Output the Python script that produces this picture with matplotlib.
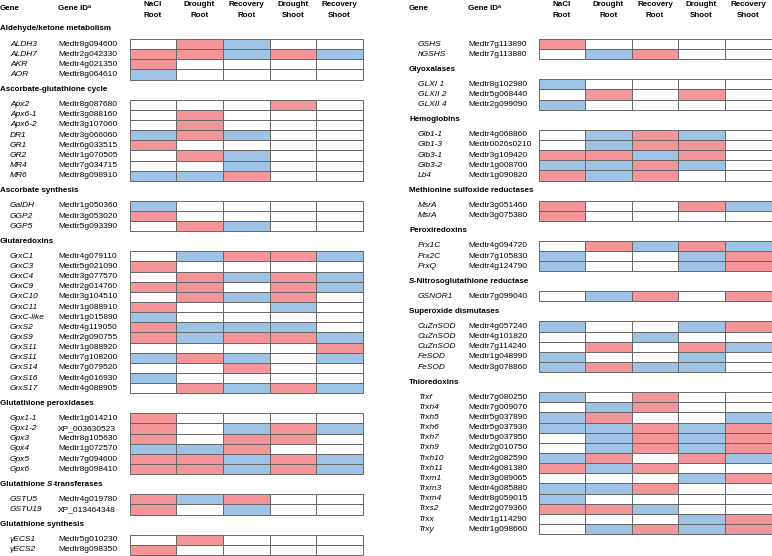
import matplotlib
matplotlib.use('Agg')
import matplotlib.pyplot as plt

plt.rcParams['font.family'] = ['Liberation Sans', 'DejaVu Sans']

conditions = ['NaCl\nRoot', 'Drought\nRoot', 'Recovery\nRoot', 'Drought\nShoot', 'Recovery\nShoot']

# r = up (red), b = down (blue), . = no change
ald_genes = ['ALDH3', 'ALDH7', 'AKR', 'AOR']
ald_ids = ['Medtr8g094600', 'Medtr2g042330', 'Medtr4g021350', 'Medtr8g064610']
ald_calls = ['.rb..', 'rrbrb', 'r....', 'b....']

asc_genes = ['Apx2', 'Apx6-1', 'Apx6-2', 'DR1', 'GR1', 'GR2', 'MR4', 'MR6']
asc_ids = ['Medtr8g087680', 'Medtr3g088160', 'Medtr3g107060', 'Medtr3g066060',
           'Medtr6g033515', 'Medtr1g070505', 'Medtr7g034715', 'Medtr8g098910']
asc_calls = ['...r.', '.r...', '.r...', 'brb..', 'r....', '.rb..', '..b..', 'bbr..']

ascs_genes = ['GalDH', 'GGP2', 'GGP5']
ascs_ids = ['Medtr1g050360', 'Medtr3g053020', 'Medtr5g093390']
ascs_calls = ['b....', 'r....', '.rb..']

grx_genes = ['GrxC1', 'GrxC3', 'GrxC4', 'GrxC9', 'GrxC10', 'GrxC11', 'GrxC-like', 'GrxS2',
             'GrxS9', 'GrxS11', 'GrxS11', 'GrxS14', 'GrxS16', 'GrxS17']
grx_ids = ['Medtr4g079110', 'Medtr5g021090', 'Medtr3g077570', 'Medtr2g014760', 'Medtr3g104510',
           'Medtr1g088910', 'Medtr1g015890', 'Medtr4g119050', 'Medtr2g090755', 'Medtr1g088920',
           'Medtr7g108200', 'Medtr7g079520', 'Medtr4g016930', 'Medtr4g088905']
grx_calls = ['.brrb', 'r....', '.rbrb', 'rr.rb', '.rbr.', 'r..b.', 'b....', 'rbbb.',
             'rbrrb', '....r', 'brb.b', '..r..', 'b....', '.rbrb']

gpx_genes = ['Gpx1-1', 'Gpx1-2', 'Gpx3', 'Gpx4', 'Gpx5', 'Gpx6']
gpx_ids = ['Medtr1g014210', 'XP_003630523', 'Medtr8g105630', 'Medtr1g072570',
           'Medtr7g094600', 'Medtr8g098410']
gpx_calls = ['r....', 'r.brb', 'r.rr.', 'bbr..', 'rrbrb', 'rrbrb']

gst_genes = ['GSTU5', 'GSTU19']
gst_ids = ['Medtr4g019780', 'XP_013464348']
gst_calls = ['rbr..', 'r.b..']

gsy_genes = ['\u03b3ECS1', '\u03b3ECS2']
gsy_ids = ['Medtr5g010230', 'Medtr8g098350']
gsy_calls = ['.r...', 'r....']

gsh_genes = ['GSHS', 'hGSHS']
gsh_ids = ['Medtr7g113890', 'Medtr7g113880']
gsh_calls = ['r....', '.br..']

glx_genes = ['GLXI 1', 'GLXII 2', 'GLXII 4']
glx_ids = ['Medtr8g102980', 'Medtr5g068440', 'Medtr2g099090']
glx_calls = ['b....', '.r.r.', 'b....']

hb_genes = ['Glb1-1', 'Glb1-3', 'Glb3-1', 'Glb3-2', 'Lb4']
hb_ids = ['Medtr4g068860', 'Medtr0026s0210', 'Medtr3g109420', 'Medtr1g008700', 'Medtr1g090820']
hb_calls = ['.brb.', '.brr.', 'rrbr.', 'bbrb.', 'rbr..']

msr_genes = ['MsrA', 'MsrA']
msr_ids = ['Medtr3g051460', 'Medtr3g075380']
msr_calls = ['r..rb', 'r....']

prx_genes = ['Prx1C', 'Prx2C', 'PrxQ']
prx_ids = ['Medtr4g094720', 'Medtr7g105830', 'Medtr4g124790']
prx_calls = ['.rbrb', 'b..br', 'b..br']

gsno_genes = ['GSNOR1']
gsno_ids = ['Medtr7g099040']
gsno_calls = ['.br.r']

sod_genes = ['CuZnSOD', 'CuZnSOD', 'CuZnSOD', 'FeSOD', 'FeSOD']
sod_ids = ['Medtr4g057240', 'Medtr4g101820', 'Medtr7g114240', 'Medtr1g048990', 'Medtr3g078860']
sod_calls = ['b..br', '..b..', '.r.rb', 'b..b.', 'brbb.']

trx_genes = ['Trxf', 'Trxh4', 'Trxh5', 'Trxh6', 'Trxh7', 'Trxh9', 'Trxh10', 'Trxh11',
             'Trxm1', 'Trxm3', 'Trxm4', 'Trxs2', 'Trxx', 'Trxy']
trx_ids = ['Medtr7g080250', 'Medtr7g009070', 'Medtr5g037890', 'Medtr5g037930', 'Medtr5g037950',
           'Medtr2g010750', 'Medtr2g082590', 'Medtr4g081380', 'Medtr3g089065', 'Medtr4g085880',
           'Medtr8g059015', 'Medtr2g079360', 'Medtr1g114290', 'Medtr1g098660']
trx_calls = ['b.r..', '.br..', 'br..b', 'bbrbr', '.brbr', '.brbr', 'br.rb', 'rbr..',
             '...br', 'bbr..', 'b....', 'rrb..', '...br', '.brbr']

# section titles: list of (text, italic) pieces
left_sections = [
    ([('Aldehyde/ketone metabolism', False)], ald_genes, ald_ids, ald_calls),
    ([('Ascorbate-glutathione cycle', False)], asc_genes, asc_ids, asc_calls),
    ([('Ascorbate synthesis', False)], ascs_genes, ascs_ids, ascs_calls),
    ([('Glutaredoxins', False)], grx_genes, grx_ids, grx_calls),
    ([('Glutathione peroxidases', False)], gpx_genes, gpx_ids, gpx_calls),
    ([('Glutathione ', False), ('S', True), ('-transferases', False)], gst_genes, gst_ids, gst_calls),
    ([('Glutathione synthesis', False)], gsy_genes, gsy_ids, gsy_calls),
]
right_sections = [
    ([], gsh_genes, gsh_ids, gsh_calls),
    ([('Glyoxalases', False)], glx_genes, glx_ids, glx_calls),
    ([('Hemoglobins', False)], hb_genes, hb_ids, hb_calls),
    ([('Methionine sulfoxide reductases', False)], msr_genes, msr_ids, msr_calls),
    ([('Peroxiredoxins', False)], prx_genes, prx_ids, prx_calls),
    ([('S', True), ('-Nitrosoglutathione reductase', False)], gsno_genes, gsno_ids, gsno_calls),
    ([('Superoxide dismutases', False)], sod_genes, sod_ids, sod_calls),
    ([('Thioredoxins', False)], trx_genes, trx_ids, trx_calls),
]

colors = {'r': '#f4959a', 'b': '#9fc3e5', '.': 'white'}

fig = plt.figure(figsize=(7.72, 5.56), dpi=100)
ax = fig.add_axes([0, 0, 1, 1])
ax.set_xlim(0, 772)
ax.set_ylim(556, 0)
ax.axis('off')
renderer = fig.canvas.get_renderer()

fs = 6.0
bfs = 5.8
rowh = 10.15


def rich(x, y, parts, size=bfs):
    for s, it in parts:
        t = ax.text(x, y, s, fontsize=size, fontweight='bold',
                    fontstyle='italic' if it else 'normal', va='center', ha='left')
        x += t.get_window_extent(renderer).width


def panel(sections, xsec, xgene, xid, xgrid, colw):
    # column headers
    ax.text(xsec, 9, 'Gene', fontsize=bfs, fontweight='bold', va='center')
    t = ax.text(xid, 9, 'Gene ID', fontsize=bfs, fontweight='bold', va='center')
    w = t.get_window_extent(renderer).width
    ax.text(xid + w - 0.3, 7, 'a', fontsize=4, fontweight='bold', va='center')
    for j, c in enumerate(conditions):
        ax.text(xgrid + (j + 0.5) * colw, 10, c, fontsize=bfs, fontweight='bold',
                ha='center', va='center', linespacing=1.65)
    y = 19.0
    for title, genes, ids, calls in sections:
        rich(xsec, y + 10, title)
        y += 20
        for g, gid, cl in zip(genes, ids, calls):
            yc = y + rowh / 2
            ax.text(xgene, yc, g, fontsize=fs, fontstyle='italic', va='center')
            ax.text(xid, yc, gid, fontsize=fs, va='center')
            ax.barh([yc] * 5, [colw] * 5, left=[xgrid + j * colw for j in range(5)],
                    height=rowh, color=[colors[k] for k in cl],
                    edgecolor='#666666', linewidth=0.7)
            y += rowh


panel(left_sections, 0, 10, 58, 129.5, 46.7)
panel(right_sections, 409, 418, 468, 538.5, 46.6)

fig.savefig('out.png', dpi=100)
